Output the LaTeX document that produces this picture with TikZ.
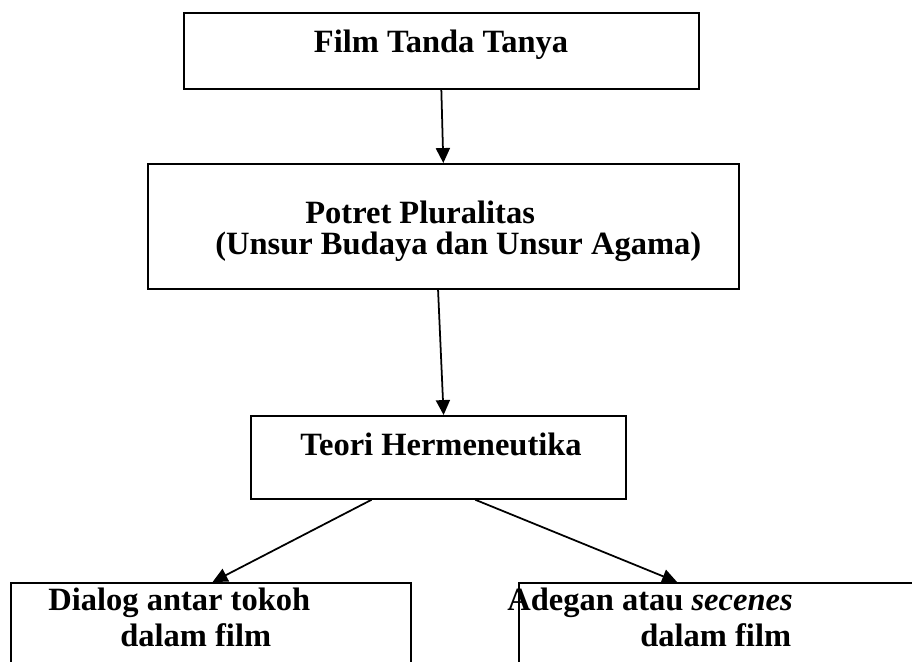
\documentclass[tikz,border=0pt]{standalone}
\usepackage{fontspec}
\setmainfont{Liberation Serif}
\usetikzlibrary{arrows.meta}

\tikzset{
  box/.style={draw, line width=1pt, inner sep=0pt, anchor=north west},
  txt/.style={font=\fontsize{18.5}{21}\selectfont\bfseries, inner sep=0pt, anchor=base west},
  arr/.style={line width=1pt, -{Triangle[length=8.5pt,width=8pt]}},
}

\begin{document}
\begin{tikzpicture}[x=0.02cm, y=-0.02cm]
    \useasboundingbox (0,0) rectangle (912,662);
    \clip (0,0) rectangle (912,662);

    \node[box, minimum width=10.3cm, minimum height=1.52cm] (film) at (183,12) {};
    \node[box, minimum width=11.82cm, minimum height=2.5cm] (potret) at (147,163) {};
    \node[box, minimum width=7.5cm, minimum height=1.66cm] (teori) at (250,415) {};
    \node[box, minimum width=8cm, minimum height=3cm] (dialog) at (10,582) {};
    \node[box, minimum width=9cm, minimum height=3cm] (adegan) at (518,582) {};

    \node[txt, anchor=base] (filmtxt) at (441,53) {Film Tanda Tanya};
    \node[txt] (potrettxt) at (305,223) {Potret Pluralitas};
    \node[txt] (unsurtxt) at (215,255) {(Unsur Budaya dan Unsur Agama)};
    \node[txt] (teoritxt) at (300,455) {Teori Hermeneutika};
    \node[txt] (dialogtxt) at (48,610) {Dialog antar tokoh};
    \node[txt] (dialogfilm) at (120,646) {dalam film};
    \node[txt] (adegantxt) at (507,610) {Adegan atau \textit{secenes}};
    \node[txt] (adeganfilm) at (640,646) {dalam film};

    \draw[arr] (film.south) -- (potret.north);
    \draw[arr] ([xshift=-3pt]potret.south) -- ([xshift=3pt]teori.north);
    \draw[arr] ([xshift=-38pt]teori.south) -- ([xshift=1pt]dialog.north);
    \draw[arr] ([xshift=21pt]teori.south) -- ([xshift=-38pt]adegan.north);

\end{tikzpicture}
\end{document}
